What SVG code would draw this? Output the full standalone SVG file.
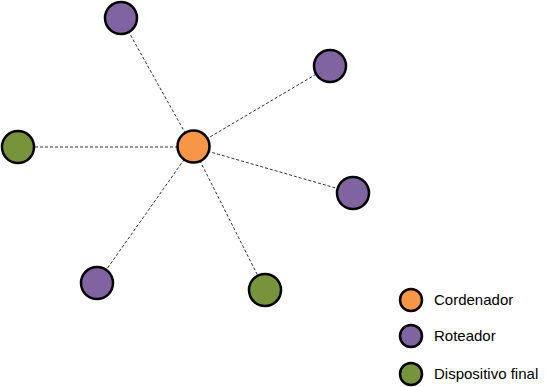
<svg xmlns="http://www.w3.org/2000/svg" width="554" height="387" viewBox="0 0 554 387">
<style>
.n{stroke:#000;stroke-width:2.5}
.c{fill:#F79646}.r{fill:#8064A2}.e{fill:#77933C}
.l{stroke:#333;stroke-width:1;stroke-dasharray:3,2;fill:none}
text{font-family:"Liberation Sans",Arial,sans-serif;font-size:15px;fill:#000}
</style>
<rect width="554" height="387" fill="#fff"/>
<g id="connectors">
<line class="l" x1="193" y1="147" x2="121" y2="18"/>
<line class="l" x1="193" y1="147" x2="330" y2="66"/>
<line class="l" x1="193" y1="147" x2="18" y2="147"/>
<line class="l" x1="193" y1="147" x2="353" y2="193"/>
<line class="l" x1="193" y1="147" x2="97" y2="283"/>
<line class="l" x1="193" y1="147" x2="265" y2="290"/>
</g>
<g id="r1"><circle class="n r" cx="121" cy="18" r="16"/></g>
<g id="r2"><circle class="n r" cx="330" cy="66" r="16"/></g>
<g id="e1"><circle class="n e" cx="18" cy="147" r="16"/></g>
<g id="r3"><circle class="n r" cx="353" cy="193" r="16"/></g>
<g id="r4"><circle class="n r" cx="97" cy="283" r="16"/></g>
<g id="e2"><circle class="n e" cx="265" cy="290" r="16"/></g>
<g id="coord"><circle class="n c" cx="193.5" cy="146.5" r="16"/></g>
<g id="legend">
<circle class="n c" cx="411" cy="300" r="11"/>
<text x="434" y="305">Cordenador</text>
<circle class="n r" cx="411" cy="336" r="11"/>
<text x="434" y="341">Roteador</text>
<circle class="n e" cx="411" cy="374" r="11"/>
<text x="434" y="379">Dispositivo final</text>
</g>
</svg>
